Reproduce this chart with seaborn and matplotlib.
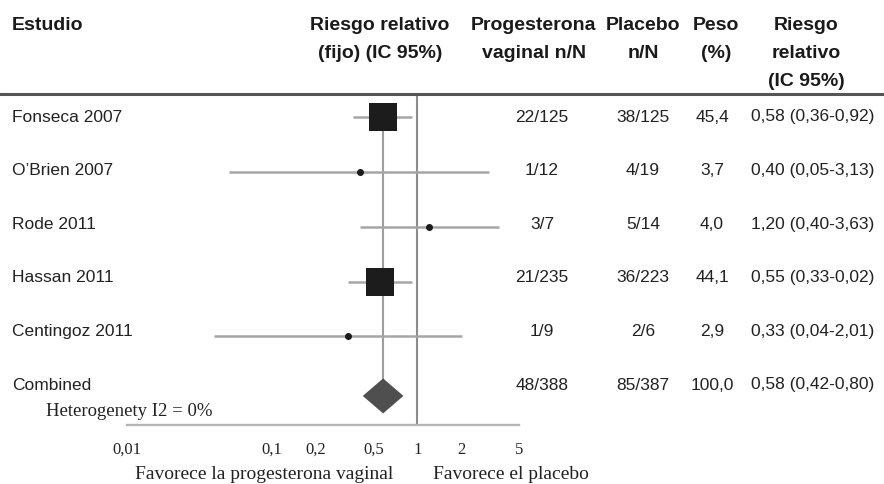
import matplotlib
matplotlib.use("Agg")
import matplotlib.pyplot as plt
import matplotlib.transforms as mtransforms
from matplotlib.lines import Line2D
from matplotlib.ticker import NullLocator
import numpy as np
import pandas as pd
import seaborn as sns

# ---------------- data ----------------
studies = ["Fonseca 2007", "O\u2019Brien 2007", "Rode 2011", "Hassan 2011", "Centingoz 2011"]
rr = [0.58, 0.40, 1.20, 0.55, 0.33]
ci_lo = [0.36, 0.05, 0.40, 0.33, 0.04]
ci_hi = [0.92, 3.13, 3.63, 0.92, 2.01]
prog_nN = ["22/125", "1/12", "3/7", "21/235", "1/9"]
plac_nN = ["38/125", "4/19", "5/14", "36/223", "2/6"]
peso = ["45,4", "3,7", "4,0", "44,1", "2,9"]
weights = [45.4, 3.7, 4.0, 44.1, 2.9]
rr_text = ["0,58 (0,36-0,92)", "0,40 (0,05-3,13)", "1,20 (0,40-3,63)",
           "0,55 (0,33-0,02)", "0,33 (0,04-2,01)"]

comb_label = "Combined"
comb_rr, comb_lo, comb_hi = 0.58, 0.42, 0.80
comb_prog, comb_plac, comb_peso, comb_text = "48/388", "85/387", "100,0", "0,58 (0,42-0,80)"
heterog = "Heterogenety I2 = 0%"

xticks = [0.01, 0.1, 0.2, 0.5, 1, 2, 5]
xticklabels = ["0,01", "0,1", "0,2", "0,5", "1", "2", "5"]

# ---------------- layout ----------------
sns.set_theme(style="white")
plt.rcParams['font.family'] = ['Liberation Sans', 'DejaVu Sans']
SERIF = "Liberation Serif"

W, H = 884, 484
fig = plt.figure(figsize=(W / 100, H / 100), dpi=100)
fig.patch.set_facecolor("white")

def fx(px):
    return px / W

def fy(py):
    return 1 - py / H

ax_left, ax_right, ax_top, ax_bot = 127, 519, 94, 425
ax = fig.add_axes([fx(ax_left), fy(ax_bot), (ax_right - ax_left) / W, (ax_bot - ax_top) / H])
ax.set_facecolor("none")

row0, row_step = 117.5, 54.7
ax.set_xscale("log")
ax.set_xlim(0.01, 5)
ax.set_ylim((ax_bot - row0) / row_step, (ax_top - row0) / row_step)

n = len(studies)
rows = np.arange(n)
diamond_y = n + 0.09
diamond_h = 0.32

df = pd.DataFrame({"study": studies, "rr": rr, "lo": ci_lo, "hi": ci_hi,
                   "w": weights, "row": rows})

# reference lines
ax.axvline(1, color="#8c8c8c", lw=1.5, zorder=1)
ax.vlines(comb_rr, 0, diamond_y, color="#9c9c9c", lw=1.5, zorder=1)

# CI lines
ax.hlines(df["row"], df["lo"], df["hi"], color="#a6a6a6", lw=1.8, zorder=2)

big = df[df["w"] > 10]
small = df[df["w"] <= 10]
sns.scatterplot(data=big, x="rr", y="row", marker="s", s=(27.5 * 0.72) ** 2,
                color="#1c1c1c", linewidth=0, legend=False, ax=ax, zorder=4)
sns.scatterplot(data=small, x="rr", y="row", marker="o", s=(7 * 0.72) ** 2,
                color="#1c1c1c", linewidth=0, legend=False, ax=ax, zorder=4)

# diamond
ax.fill([comb_lo, comb_rr, comb_hi, comb_rr],
        [diamond_y, diamond_y - diamond_h, diamond_y, diamond_y + diamond_h],
        color="#4f4f4f", zorder=4, lw=0)

# axis styling
for s in ["top", "right", "left"]:
    ax.spines[s].set_visible(False)
ax.spines["bottom"].set_color("#b5b5b5")
ax.spines["bottom"].set_linewidth(1.7)
ax.set_yticks([])
ax.set_xticks(xticks)
ax.xaxis.set_minor_locator(NullLocator())
ax.set_xticklabels(xticklabels, fontfamily=SERIF, fontsize=12, color="#222222")
ax.tick_params(axis="x", direction="inout", length=7, width=1.5, color="#b5b5b5", pad=8.5)
ax.set_xlabel("")
ax.set_ylabel("")
ax.grid(False)

# header
hdr = dict(fontsize=14, fontweight="bold", color="#1a1a1a", va="center")
line_y = [25, 53, 81]
fig.text(fx(12), fy(line_y[0]), "Estudio", ha="left", **hdr)
for i, t in enumerate(["Riesgo relativo", "(fijo) (IC 95%)"]):
    fig.text(fx(380), fy(line_y[i]), t, ha="center", **hdr)
for i, t in enumerate(["Progesterona", "vaginal n/N"]):
    fig.text(fx(534), fy(line_y[i]), t, ha="center", **hdr)
for i, t in enumerate(["Placebo", "n/N"]):
    fig.text(fx(643), fy(line_y[i]), t, ha="center", **hdr)
for i, t in enumerate(["Peso", "(%)"]):
    fig.text(fx(716), fy(line_y[i]), t, ha="center", **hdr)
for i, t in enumerate(["Riesgo", "relativo", "(IC 95%)"]):
    fig.text(fx(806), fy(line_y[i]), t, ha="center", **hdr)
fig.add_artist(Line2D([0, 1], [fy(94), fy(94)], transform=fig.transFigure,
                      color="#555555", lw=2.2))

# table rows
cell = dict(fontsize=12.5, color="#222222", va="center")
all_names = studies + [comb_label]
all_prog = prog_nN + [comb_prog]
all_plac = plac_nN + [comb_plac]
all_peso = peso + [comb_peso]
all_rr = rr_text + [comb_text]
text_row0, text_step = 117, 53.6
for i in range(n + 1):
    yy = fy(text_row0 + text_step * i)
    fig.text(fx(12), yy, all_names[i], ha="left", **cell)
    fig.text(fx(542), yy, all_prog[i], ha="center", **cell)
    fig.text(fx(643), yy, all_plac[i], ha="center", **cell)
    fig.text(fx(712), yy, all_peso[i], ha="center", **cell)
    fig.text(fx(751), yy, all_rr[i], ha="left", **cell)

# serif annotations
fig.text(fx(46), fy(411), heterog, ha="left", va="center",
         fontfamily=SERIF, fontsize=13.5, color="#222222")
fig.text(fx(135), fy(479), "Favorece la progesterona vaginal", ha="left", va="baseline",
         fontfamily=SERIF, fontsize=14, color="#222222")
fig.text(fx(433), fy(479), "Favorece el placebo", ha="left", va="baseline",
         fontfamily=SERIF, fontsize=14, color="#222222")

fig.savefig("out.png", dpi=100, facecolor="white")
